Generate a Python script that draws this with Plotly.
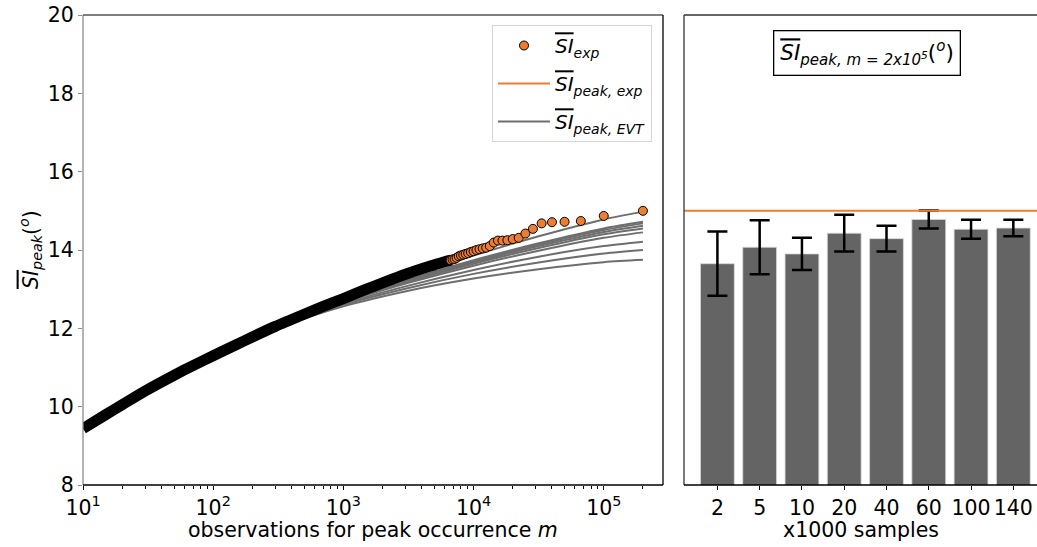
import plotly.graph_objects as go

W, H = 1037, 547
FONT = "DejaVu Sans"
ORANGE = "#ED7D31"
GRAY_LINE = "#6e6e6e"
BAR_GRAY = "#646464"

# ---------------- data ----------------
# dense part of the experimental curve (points overlap into a black band)
band_m = [10, 15, 20, 30, 50, 70, 100, 150, 200, 300, 500, 700, 1000, 1500, 2000, 3000, 4000, 5000, 6000, 6700]
band_si = [9.44, 9.8, 10.05, 10.4, 10.8, 11.05, 11.3, 11.58, 11.78, 12.05, 12.36, 12.56, 12.76, 13.0, 13.16, 13.38, 13.52, 13.62, 13.7, 13.74]

# sparse experimental points at the high end
exp_m = [200000, 100000, 66667, 50000, 40000, 33333, 28571, 25000, 22222, 20000,
         18182, 16667, 15385, 14286, 13333, 12500, 11765, 11111, 10526, 10000,
         9524, 9091, 8696, 8333, 8000, 7692, 7407, 7143, 6897, 6667]
exp_si = [15.0, 14.87, 14.74, 14.72, 14.71, 14.68, 14.54, 14.42, 14.31, 14.28,
          14.25, 14.24, 14.24, 14.19, 14.10, 14.06, 14.04, 14.02, 14.0, 13.97,
          13.95, 13.92, 13.9, 13.88, 13.86, 13.84, 13.8, 13.77, 13.76, 13.74]

# EVT curves
evt_m = [10, 31.6, 100, 316, 1000, 3162, 10000, 31623, 100000, 200000]
evt_curves = [
    [9.44, 10.42, 11.30, 12.07, 12.74, 13.32, 13.86, 14.35, 14.78, 14.98],
    [9.44, 10.42, 11.30, 12.06, 12.71, 13.25, 13.74, 14.17, 14.55, 14.72],
    [9.44, 10.42, 11.30, 12.06, 12.70, 13.23, 13.71, 14.14, 14.51, 14.68],
    [9.44, 10.42, 11.30, 12.05, 12.69, 13.21, 13.68, 14.10, 14.46, 14.62],
    [9.44, 10.42, 11.30, 12.05, 12.68, 13.19, 13.65, 14.05, 14.40, 14.55],
    [9.44, 10.42, 11.29, 12.04, 12.66, 13.16, 13.60, 13.98, 14.31, 14.45],
    [9.44, 10.42, 11.29, 12.03, 12.63, 13.09, 13.49, 13.83, 14.10, 14.21],
    [9.44, 10.42, 11.29, 12.02, 12.60, 13.03, 13.39, 13.68, 13.91, 14.00],
    [9.44, 10.42, 11.29, 12.01, 12.56, 12.96, 13.27, 13.51, 13.69, 13.75],
]

si_peak_exp = 15.0

# right panel
sample_labels = ["2", "5", "10", "20", "40", "60", "100", "140"]
bar_si = [13.65, 14.07, 13.90, 14.43, 14.29, 14.78, 14.53, 14.56]
bar_err = [0.82, 0.69, 0.41, 0.47, 0.33, 0.23, 0.24, 0.21]

# ---------------- layout geometry (pixels) ----------------
def px(x):
    return x / W

def py(y):
    return 1 - y / H

L_X0, L_X1 = 83, 663
R_X0, R_X1 = 684, 1037
Y_TOP, Y_BOT = 15, 485

SI = '<span style="text-decoration:overline">SI</span>'

fig = go.Figure()

# EVT curves (under the points)
for i, c in enumerate(evt_curves):
    fig.add_trace(go.Scatter(
        x=evt_m, y=c, mode="lines", line=dict(color=GRAY_LINE, width=2, shape="spline", smoothing=0.8),
        name="<i>" + SI + "<sub>peak, EVT</sub></i>", showlegend=(i == 0), legendrank=3,
        legendgroup="evt", xaxis="x", yaxis="y"))

# dense band of experimental points
fig.add_trace(go.Scatter(
    x=band_m, y=band_si, mode="lines", line=dict(color="black", width=11, shape="spline", smoothing=0.6),
    showlegend=False, hoverinfo="skip", xaxis="x", yaxis="y"))

# sparse experimental points (drawn from low m to high m)
fig.add_trace(go.Scatter(
    x=exp_m[::-1], y=exp_si[::-1], mode="markers",
    marker=dict(color=ORANGE, size=9, line=dict(color="black", width=1)),
    name="<i>" + SI + "<sub>exp</sub></i>", legendrank=1, legendgroup="exp", xaxis="x", yaxis="y"))

# legend proxy for the orange horizontal line
fig.add_trace(go.Scatter(
    x=[None], y=[None], mode="lines", line=dict(color=ORANGE, width=2),
    name="<i>" + SI + "<sub>peak, exp</sub></i>", legendrank=2, legendgroup="pexp", xaxis="x", yaxis="y"))

# bars
fig.add_trace(go.Bar(
    x=list(range(len(sample_labels))), y=bar_si, width=0.8,
    marker=dict(color=BAR_GRAY, line=dict(color="#d9d9d9", width=0.8)),
    error_y=dict(type="data", array=bar_err, visible=True, color="black", thickness=2.5, width=10),
    showlegend=False, xaxis="x2", yaxis="y2"))

minor_vals = [k * 10 ** d for d in range(1, 6) for k in range(2, 10)]

fig.update_layout(
    template="none",
    width=W, height=H, margin=dict(l=0, r=0, t=0, b=0, autoexpand=False),
    paper_bgcolor="white", plot_bgcolor="white",
    font=dict(family=FONT, size=20, color="black"),
    showlegend=True,
    legend=dict(x=px(492), y=py(25), xanchor="left", yanchor="top",
                bgcolor="white", bordercolor="#d5d5d5", borderwidth=1,
                font=dict(family=FONT, size=20), traceorder="grouped", tracegroupgap=9,
                itemwidth=52),
    xaxis=dict(type="log", domain=[px(L_X0), px(L_X1)], range=[1, 5.455], automargin=False,
               tickvals=[10, 100, 1000, 10000, 100000],
               ticktext=["10<sup>1</sup>", "10<sup>2</sup>", "10<sup>3</sup>", "10<sup>4</sup>", "10<sup>5</sup>"],
               ticks="outside", ticklen=4, tickcolor="black", tickwidth=1,
               minor=dict(tickvals=minor_vals, ticks="outside", ticklen=2.5, tickcolor="black", tickwidth=0.8),
               showgrid=False, zeroline=False, showline=False,
               tickfont=dict(size=20.5), anchor="y"),
    yaxis=dict(domain=[py(Y_BOT), py(Y_TOP)], range=[8, 20], tickvals=[8, 10, 12, 14, 16, 18, 20],
               automargin=False,
               ticks="outside", ticklen=4, tickcolor="#8c8c8c", tickwidth=1,
               showgrid=False, zeroline=False, showline=False, tickfont=dict(size=20.5), anchor="x"),
    xaxis2=dict(domain=[px(R_X0), px(R_X1)], range=[-0.79, 7.56], automargin=False,
                tickvals=list(range(len(sample_labels))), ticktext=sample_labels,
                ticks="outside", ticklen=4, tickcolor="black", tickwidth=1,
                showgrid=False, zeroline=False, showline=False, tickfont=dict(size=20.5), anchor="y2"),
    yaxis2=dict(domain=[py(Y_BOT), py(Y_TOP)], range=[8, 20], showticklabels=False, ticks="",
                automargin=False,
                showgrid=False, zeroline=False, showline=False, anchor="x2"),
)

shapes = []
# orange horizontal line in right panel
shapes.append(dict(type="line", xref="x2 domain", yref="y2", x0=0, x1=1, y0=si_peak_exp, y1=si_peak_exp,
                   line=dict(color=ORANGE, width=2), layer="above"))
# spines left panel
shapes.append(dict(type="line", xref="x domain", yref="y domain", x0=0, x1=0, y0=0, y1=1, line=dict(color="#8c8c8c", width=1.3)))
shapes.append(dict(type="line", xref="x domain", yref="y domain", x0=0, x1=1, y0=1, y1=1, line=dict(color="#555555", width=1.3)))
shapes.append(dict(type="line", xref="x domain", yref="y domain", x0=1, x1=1, y0=0, y1=1, line=dict(color="black", width=1.3)))
shapes.append(dict(type="line", xref="x domain", yref="y domain", x0=0, x1=1, y0=0, y1=0, line=dict(color="black", width=1.3)))
# spines right panel
shapes.append(dict(type="line", xref="x2 domain", yref="y2 domain", x0=0, x1=0, y0=0, y1=1, line=dict(color="#333333", width=1.3)))
shapes.append(dict(type="line", xref="x2 domain", yref="y2 domain", x0=0, x1=1, y0=1, y1=1, line=dict(color="#333333", width=1.3)))
shapes.append(dict(type="line", xref="x2 domain", yref="y2 domain", x0=0, x1=1, y0=0, y1=0, line=dict(color="black", width=1.3)))
fig.update_layout(shapes=shapes)

annotations = [
    dict(text="observations for peak occurrence <i>m</i>", x=px((L_X0 + L_X1) / 2), y=py(530),
         xref="paper", yref="paper", showarrow=False, font=dict(size=20.5), xanchor="center", yanchor="middle"),
    dict(text="x1000 samples", x=px(861), y=py(530),
         xref="paper", yref="paper", showarrow=False, font=dict(size=20.5), xanchor="center", yanchor="middle"),
    dict(text="<i>" + SI + "<sub>peak</sub></i>(<sup><i>o</i></sup>)", x=px(30), y=py(250),
         xref="paper", yref="paper", showarrow=False, textangle=-90, font=dict(size=20.5),
         xanchor="center", yanchor="middle"),
    dict(text="<i>" + SI + "<sub>peak, m = 2x10<sup>5</sup></sub></i>(<sup><i>o</i></sup>)", x=px(867), y=py(53),
         xref="paper", yref="paper", showarrow=False, font=dict(size=21.5),
         xanchor="center", yanchor="middle", bordercolor="black", borderwidth=1.3, borderpad=6, bgcolor="white"),
]
fig.update_layout(annotations=annotations)

fig.write_html("out.html", config={"displayModeBar": False},
               post_script="document.body.style.margin='0px';")
